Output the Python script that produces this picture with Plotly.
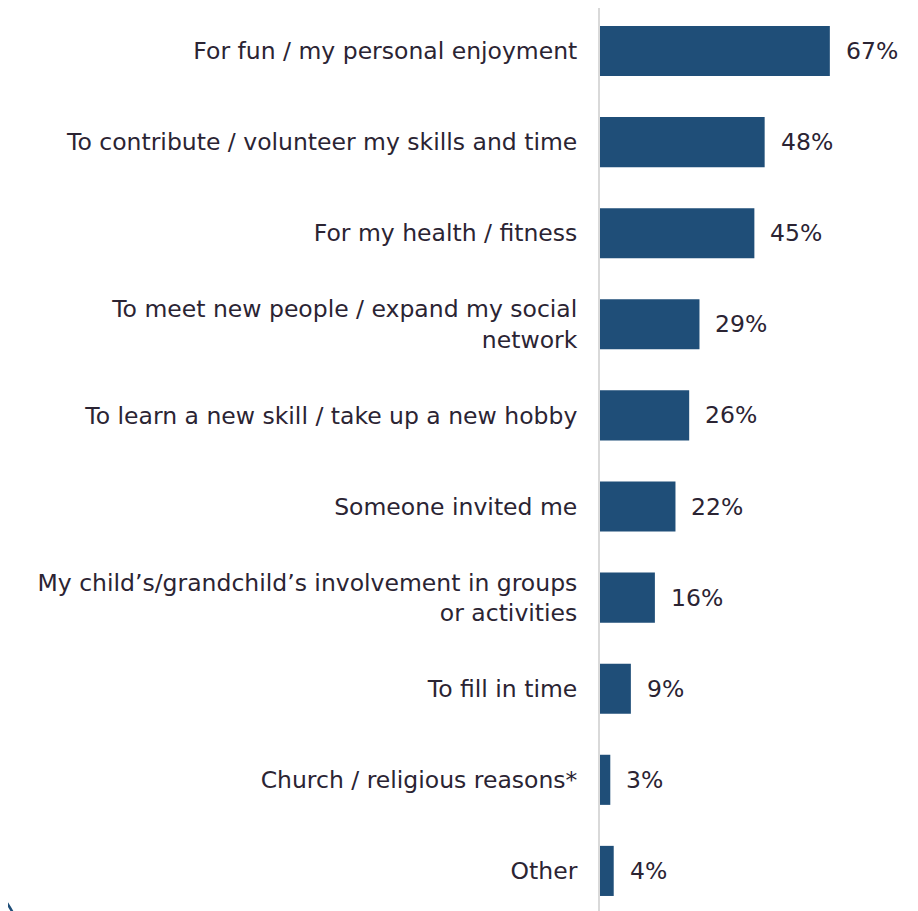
import plotly.graph_objects as go

categories = [
    "For fun / my personal enjoyment",
    "To contribute / volunteer my skills and time",
    "For my health / fitness",
    "To meet new people / expand my social<br>network",
    "To learn a new skill / take up a new hobby",
    "Someone invited me",
    "My child’s/grandchild’s involvement in groups<br>or activities",
    "To fill in time",
    "Church / religious reasons*",
    "Other",
]
values = [67, 48, 45, 29, 26, 22, 16, 9, 3, 4]
value_labels = ["67%", "48%", "45%", "29%", "26%", "22%", "16%", "9%", "3%", "4%"]

BAR = "#1f4e78"
TXT = "#2b2433"
FONT = "DejaVu Sans"

fig = go.Figure()
fig.add_trace(go.Bar(
    x=values, y=categories, orientation="h",
    marker=dict(color=BAR, line=dict(width=0)),
    width=0.55, hoverinfo="skip",
))

for c, v, t in zip(categories, values, value_labels):
    fig.add_annotation(x=v, y=c, text=t, showarrow=False, xanchor="left",
                       xshift=14, font=dict(size=23.5, color=TXT, family=FONT))

# decorative arc at bottom-left
fig.add_shape(type="path", xref="paper", yref="paper",
              path="M -1.9,0.025 Q -1.872,0.014 -1.846,-0.002",
              line=dict(color=BAR, width=2.5))

fig.update_layout(
    width=918, height=911,
    margin=dict(l=592, r=8, t=0, b=8),
    paper_bgcolor="white", plot_bgcolor="white",
    showlegend=False,
    font=dict(family=FONT, size=23.5, color=TXT),
    xaxis=dict(range=[0, 92.7], visible=False, fixedrange=True),
    yaxis=dict(categoryorder="array", categoryarray=categories,
               range=[9.44, -0.472], showline=True, linecolor="#d9d9d9",
               linewidth=2, showgrid=False, ticks="", ticklabelstandoff=16,
               tickfont=dict(size=23.5, color=TXT, family=FONT)),
)

fig.write_html("out.html")
